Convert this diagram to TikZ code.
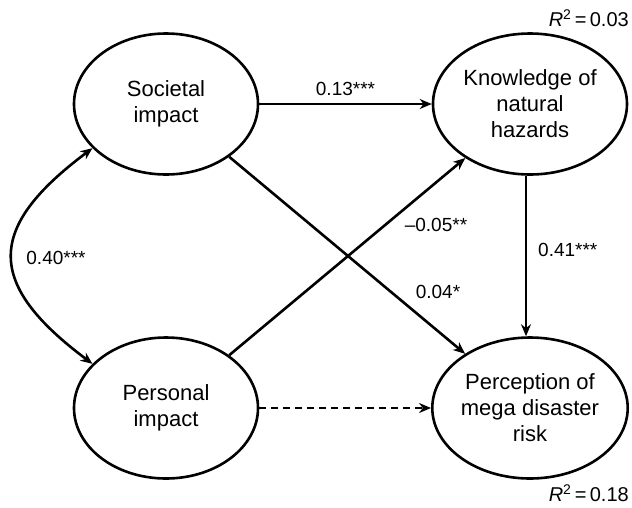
\documentclass[tikz,border=0pt]{standalone}
\usepackage{fontspec}
\setmainfont{Liberation Sans}
\usetikzlibrary{shapes.geometric,arrows.meta}

\tikzset{
    latent/.style={ellipse, draw=black, line width=2.6pt, minimum width=184pt, minimum height=141pt,
        inner sep=0pt, align=center, font=\fontsize{22}{26}\selectfont},
    path/.style={line width=2.6pt, -{Stealth[length=12pt,width=10pt]}},
    coef/.style={font=\fontsize{19}{22}\selectfont, inner sep=2pt}
}

\begin{document}
\begin{tikzpicture}[x=1pt, y=-1pt]
            \useasboundingbox (0,0) rectangle (632,507);
            
            \node[latent] (soc) at (166,104) {Societal\\impact};
            \node[latent, minimum width=194pt] (know) at (530,104) {Knowledge of\\natural\\hazards};
            \node[latent] (pers) at (166,408) {Personal\\impact};
            \node[latent, minimum width=194pt] (perc) at (530,408) {Perception of\\mega disaster\\risk};
            
            \node[coef, anchor=east, font=\fontsize{20}{24}\selectfont] (rk) at (631,18) {\textit{R}\textsuperscript{2}\,=\,0.03};
            \node[coef, anchor=east, font=\fontsize{20}{24}\selectfont] (rp) at (631,493) {\textit{R}\textsuperscript{2}\,=\,0.18};
            
            \draw[path] (soc.east) -- (know.west) node[coef, midway, above=5pt] {0.13***};
            \draw[path] (soc) -- (perc);
            \draw[path] (pers) -- (know);
            \draw[path] ([xshift=-4pt]know.south) -- ([xshift=-4pt]perc.north);
            \draw[path, dash pattern=on 7pt off 5pt] (pers.east) -- (perc.west);
            \draw[path, {Stealth[length=12pt,width=10pt]}-{Stealth[length=12pt,width=10pt]}]
                (soc.211) .. controls +(-107,80) and +(-107,-80) .. (pers.149);
            
            \node[coef] (c40) at (56,258) {0.40***};
            \node[coef] (c05) at (436,225) {--0.05**};
            \node[coef] (c04) at (438,292) {0.04*};
            \node[coef, anchor=west] (c41) at (536,250) {0.41***};
            
        \end{tikzpicture}
\end{document}
